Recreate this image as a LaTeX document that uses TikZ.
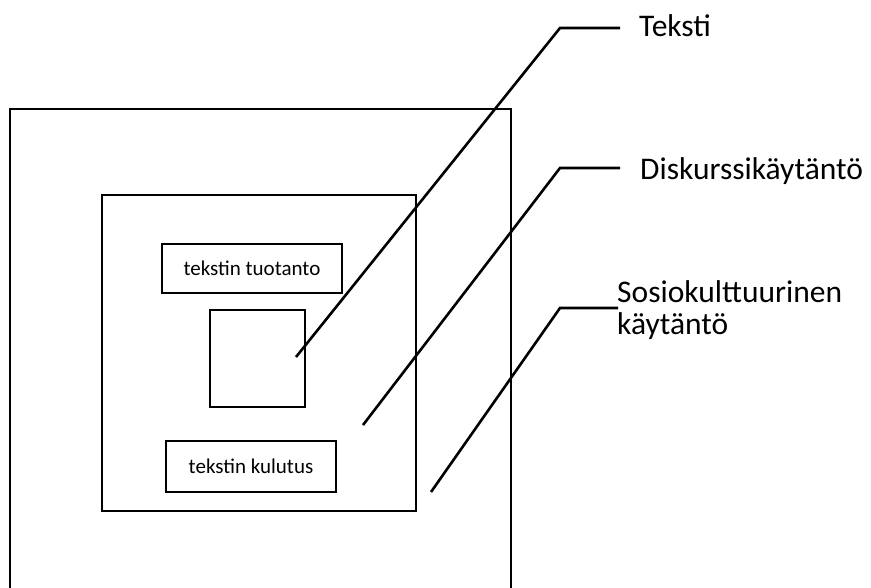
\documentclass[tikz,border=0pt]{standalone}
\usepackage{fontspec}
\setmainfont{Carlito}
\begin{document}
\begin{tikzpicture}[x=1pt,y=-1pt,
  thick box/.style={draw=black,line width=2.6pt},
  thin box/.style={draw=black,line width=1.6pt,inner sep=0pt},
  leader/.style={draw=black,line width=2.6pt},
  label/.style={font=\fontsize{31.5}{32}\selectfont,anchor=base west,inner sep=0pt,align=left},
  small/.style={font=\fontsize{21}{24}\selectfont}]
\useasboundingbox (0,0) rectangle (871,587);
% outer (sociocultural) frame, open at the bottom edge of the picture
\draw[line width=2.6pt] (10,588) -- (10,109) -- (511,109) -- (511,588);
% discourse practice frame
\node[thick box,minimum width=314pt,minimum height=316pt,inner sep=0pt] (disc) at (259,353) {};
% text production / consumption boxes
\node[thin box,minimum width=180pt,minimum height=49pt,small] (prod) at (252,268.5) {tekstin tuotanto};
\node[thin box,minimum width=170pt,minimum height=51pt,small] (cons) at (251,466.5) {tekstin kulutus};
% text square
\node[thick box,minimum width=95pt,minimum height=97pt,inner sep=0pt,line width=2.4pt] (txt) at (257.5,358.5) {};
% labels
\node[label] (lteksti) at (639,36) {Teksti};
\node[label] (ldisk) at (640,179) {Diskurssikäytäntö};
\node[label,anchor=north west] (lsosio) at (617,280) {Sosiokulttuurinen\\käytäntö};
% leader lines
\coordinate (e1) at (620,28);  \coordinate (k1) at (560,28);  \coordinate (p1) at (296,357);
\coordinate (e2) at (620,168); \coordinate (k2) at (560,168); \coordinate (p2) at (363,425);
\coordinate (e3) at (618,308); \coordinate (k3) at (560,308); \coordinate (p3) at (431,492);
\draw[leader] (e1) -- (k1) -- (p1);
\draw[leader] (e2) -- (k2) -- (p2);
\draw[leader] (e3) -- (k3) -- (p3);
\end{tikzpicture}
\end{document}
